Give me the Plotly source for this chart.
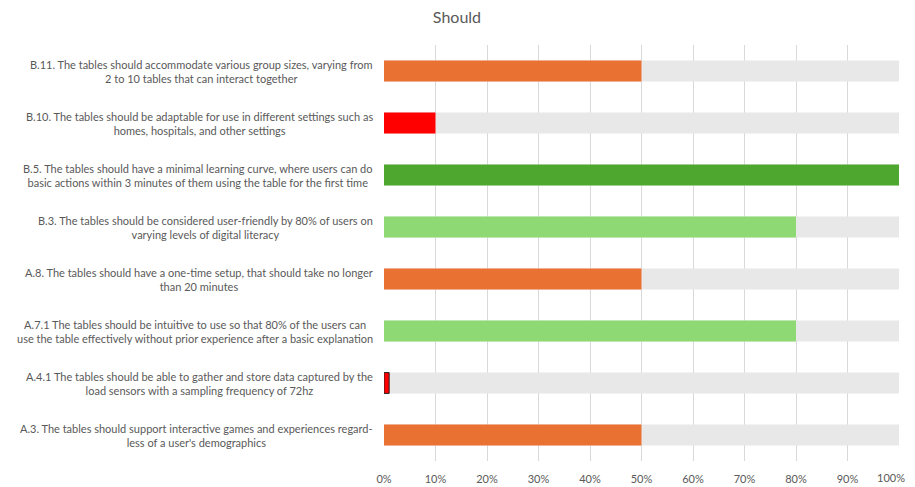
import plotly.graph_objects as go

labels = [
    "B.11. The tables should accommodate various group sizes, varying from<br>2 to 10 tables that can interact together",
    "B.10. The tables should be adaptable for use in different settings such as<br>homes, hospitals, and other settings",
    "B.5. The tables should have a minimal learning curve, where users can do<br>basic actions within 3 minutes of them using the table for the first time",
    "B.3. The tables should be considered user-friendly by 80% of users on<br>varying levels of digital literacy",
    "A.8. The tables should have a one-time setup, that should take no longer<br>than 20 minutes",
    "A.7.1 The tables should be intuitive to use so that 80% of the users can<br>use the table effectively without prior experience after a basic explanation",
    "A.4.1 The tables should be able to gather and store data captured by the<br>load sensors with a sampling frequency of 72hz",
    "A.3. The tables should support interactive games and experiences regard-<br>less of a user's demographics",
]
values = [50, 10, 100, 80, 50, 80, 1, 50]
totals = [100] * len(labels)
colors = ["#E97132", "#FF0000", "#4EA72E", "#8ED973", "#E97132", "#8ED973", "#FF0000", "#E97132"]
outline = [0, 0, 0, 0, 0, 0, 1, 0]
tick_vals = [0, 10, 20, 30, 40, 50, 60, 70, 80, 90, 100]
tick_text = [f"{v}%" for v in tick_vals]

FONT = "Lato"
GREY = "#595959"

fig = go.Figure()
fig.add_trace(go.Bar(
    y=labels, x=totals, orientation="h", width=0.4,
    marker=dict(color="#E8E8E8", line=dict(width=0)),
    hoverinfo="skip", showlegend=False,
))
fig.add_trace(go.Bar(
    y=labels, x=values, orientation="h", width=0.4,
    marker=dict(color=colors, line=dict(color="#222222", width=outline)),
    showlegend=False,
))

for lab in labels:
    fig.add_annotation(
        x=0, y=lab, xref="x", yref="y", text=lab, showarrow=False,
        xanchor="right", align="center", xshift=-9,
        font=dict(family=FONT, size=11, color=GREY),
    )

# last tick label drawn as an annotation so it stays inside the visible page
shown_ticks = [t if v != tick_vals[-1] else "" for v, t in zip(tick_vals, tick_text)]
fig.add_annotation(
    x=tick_vals[-1], y=0, xref="x", yref="paper", text=tick_text[-1], showarrow=False,
    xanchor="right", yanchor="top", xshift=8, yshift=-8,
    font=dict(family=FONT, size=11, color=GREY),
)

fig.update_layout(
    width=907, height=479,
    margin=dict(l=376, r=16, t=37, b=26),
    barmode="overlay",
    paper_bgcolor="white", plot_bgcolor="white",
    title=dict(text="Should", x=0.495, xanchor="center", y=1, yanchor="top",
               pad=dict(t=4, b=0, l=0, r=0),
               font=dict(family=FONT, size=16, color=GREY)),
    xaxis=dict(range=[0, 100], tickvals=tick_vals, ticktext=shown_ticks, automargin=False,
               showgrid=True, gridcolor="#D9D9D9", gridwidth=1, zeroline=False,
               ticklabelstandoff=10,
               tickfont=dict(family=FONT, size=11, color=GREY), fixedrange=True),
    yaxis=dict(autorange="reversed", showticklabels=False, showgrid=False, zeroline=False,
               automargin=False),
    font=dict(family=FONT),
)

fig.write_html("out.html")
